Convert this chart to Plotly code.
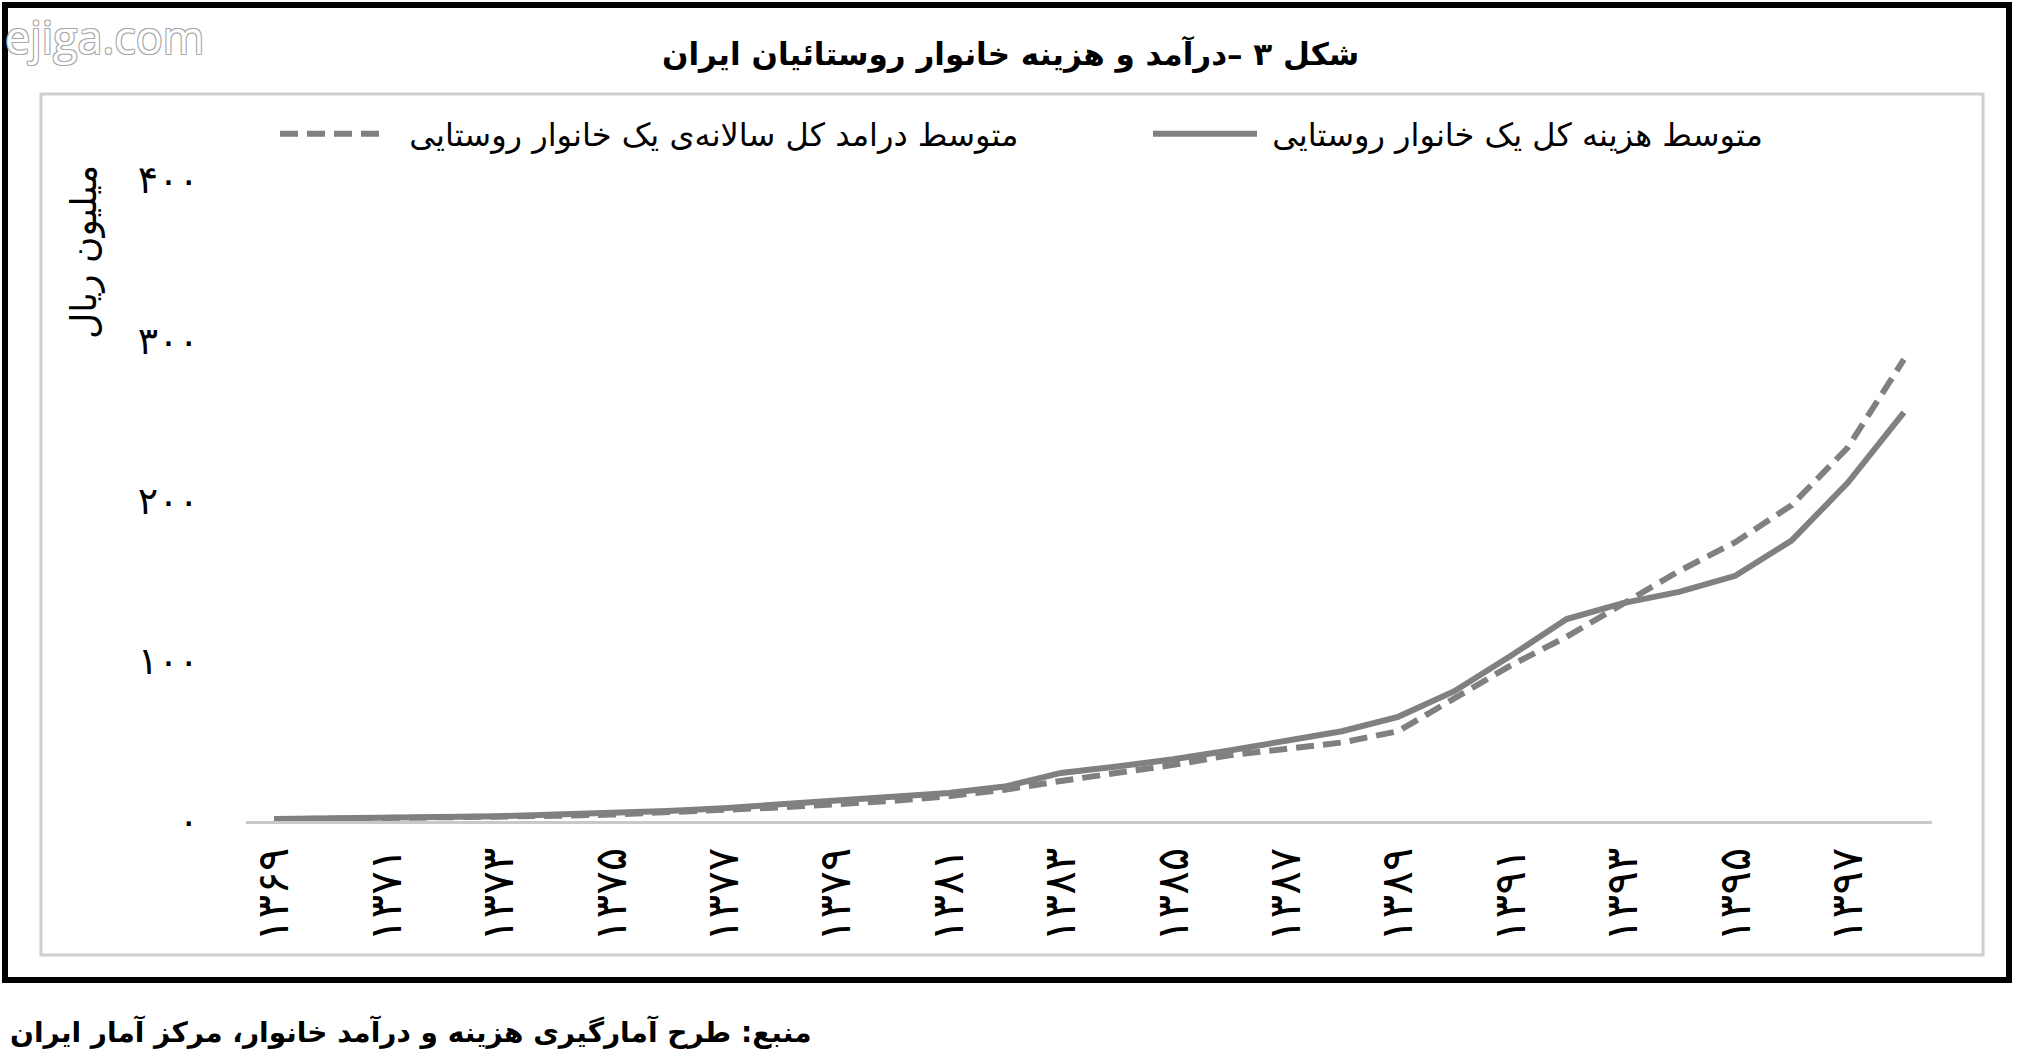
import plotly.graph_objects as go

# ---------------- data ----------------
years = [1369, 1370, 1371, 1372, 1373, 1374, 1375, 1376, 1377, 1378,
         1379, 1380, 1381, 1382, 1383, 1384, 1385, 1386, 1387, 1388,
         1389, 1390, 1391, 1392, 1393, 1394, 1395, 1396, 1397, 1398]

# average total expense of a rural household (million rials) - solid
expense = [1.2, 1.5, 1.9, 2.4, 3.0, 4.0, 5.0, 6.3, 8.0, 10.2,
           12.5, 14.5, 17.5, 21.5, 30.0, 34.0, 38.5, 44.0, 50.0, 56.0,
           65.0, 81.0, 103.0, 126.0, 136.0, 143.0, 153.0, 175.0, 211.0, 255.0]

# average total annual income of a rural household (million rials) - dashed
income = [1.0, 1.3, 1.6, 2.0, 2.5, 3.2, 4.0, 5.2, 6.5, 8.5,
          10.5, 12.5, 15.5, 19.5, 25.0, 30.0, 35.0, 41.0, 45.0, 49.0,
          56.0, 76.0, 97.0, 115.0, 135.0, 156.0, 174.0, 197.0, 233.0, 288.0]

y_ticks = [0, 100, 200, 300, 400]

name_income = "متوسط درامد کل سالانه\u200cی یک خانوار روستایی"
name_expense = "متوسط هزینه کل یک خانوار روستایی"
title_text = "شکل ۳ –درآمد و هزینه خانوار روستائیان ایران"
ytitle_text = "میلیون ریال"
source_text = "منبع: طرح آمارگیری هزینه و درآمد خانوار، مرکز آمار ایران"

# ---------------- helpers ----------------
_fa = str.maketrans("0123456789", "۰۱۲۳۴۵۶۷۸۹")


def fa_num(n):
    return str(n).translate(_fa)


cats = [fa_num(y) for y in years]

W, H = 2018, 1058
PL, PR, PT, PB = 246, 1932, 180, 821


def px(x):
    return (x - PL) / (PR - PL)


def py(y):
    return (PB - y) / (PB - PT)


FONT = "DejaVu Sans"
GRAY = "#808080"

fig = go.Figure()
fig.add_trace(go.Scatter(
    x=cats, y=income, mode="lines", name="\u00a0\u00a0" + name_income,
    line=dict(color=GRAY, width=6, dash="18px,9px"), legend="legend",
))
fig.add_trace(go.Scatter(
    x=cats, y=expense, mode="lines", name="\u00a0" + name_expense,
    line=dict(color=GRAY, width=6), legend="legend2",
))

legend_common = dict(
    orientation="h", xanchor="left", yanchor="middle",
    font=dict(family=FONT, size=32, color="black"),
    itemwidth=104, bgcolor="rgba(0,0,0,0)",
)

fig.update_layout(
    width=W, height=H, autosize=False,
    margin=dict(l=PL, r=W - PR, t=PT, b=H - PB, pad=0),
    paper_bgcolor="white", plot_bgcolor="white",
    font=dict(family=FONT, color="black"),
    showlegend=True,
    legend=dict(x=px(275), y=py(134), **legend_common),
    legend2=dict(x=px(1148), y=py(134), **legend_common),
    xaxis=dict(
        type="category", range=[-0.5, len(cats) - 0.5],
        tickmode="array", tickvals=cats[::2], ticktext=cats[::2],
        tickangle=-90, tickfont=dict(family=FONT, size=44, color="black"),
        showline=True, linecolor="#c8c8c8", linewidth=3,
        showgrid=False, zeroline=False, ticks="", ticklabelstandoff=6,
    ),
    yaxis=dict(
        range=[0, 400], tickmode="array", tickvals=y_ticks,
        ticktext=[fa_num(v) for v in y_ticks],
        tickfont=dict(family=FONT, size=38, color="black"),
        showgrid=False, zeroline=False, showline=False, ticks="",
        ticklabelstandoff=46,
    ),
    shapes=[
        dict(type="rect", xref="paper", yref="paper",
             x0=px(41), x1=px(1983), y0=py(955), y1=py(94),
             line=dict(color="#cfcfcf", width=3), layer="below"),
        dict(type="rect", xref="paper", yref="paper",
             x0=px(5), x1=px(2009), y0=py(980), y1=py(5),
             line=dict(color="black", width=6), layer="below"),
    ],
    annotations=[
        dict(text="<b>" + title_text + "</b>", xref="paper", yref="paper",
             x=px(1010), y=py(54), xanchor="center", yanchor="middle",
             showarrow=False, font=dict(family=FONT, size=31, color="black")),
        dict(text=ytitle_text, xref="paper", yref="paper",
             x=px(84), y=py(252), xanchor="center", yanchor="middle",
             textangle=-90, showarrow=False,
             font=dict(family=FONT, size=36, color="black")),
        dict(text="<b>" + source_text + "</b>", xref="paper", yref="paper",
             x=px(8), y=py(1032), xanchor="left", yanchor="middle",
             showarrow=False, font=dict(family=FONT, size=28, color="black")),
        dict(text="ejiga.com", xref="paper", yref="paper",
             x=px(3), y=py(36), xanchor="left", yanchor="middle",
             showarrow=False,
             font=dict(family="Open Sans", size=45, color="white",
                       shadow="1px 1px 0 #a8a8a8, -1px -1px 0 #a8a8a8, 1px -1px 0 #a8a8a8, -1px 1px 0 #a8a8a8")),
    ],
)

fig.write_html("out.html", config={"displayModeBar": False},
               post_script="document.body.style.margin='0';")
